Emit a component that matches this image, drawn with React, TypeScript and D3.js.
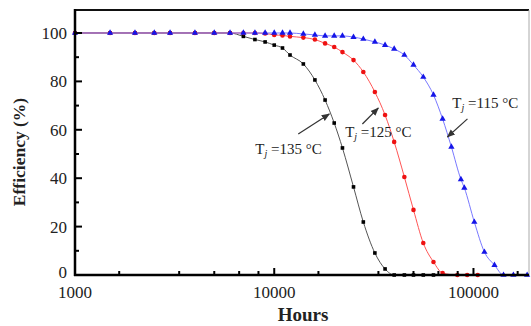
import React from 'react';
import * as d3 from 'd3';

// ---- Data (hours, efficiency %) ----
const hours135 = [1000, 1500, 2000, 2500, 3000, 4000, 5000, 6000, 7000, 8000, 9000, 10000, 11000, 12000, 14000, 16000, 18000, 20000, 22000, 25000, 28000, 32000, 36000, 40000, 45000, 50000, 56000, 63000];
const eff135 = [100, 100, 100, 100, 100, 100, 100, 100, 98.6, 97.3, 96.3, 95, 93.8, 90.9, 87.2, 80.6, 72.3, 62.8, 52.5, 36.4, 21.9, 9.1, 2.5, 0, 0, 0, 0, 0];

const hours125 = [1000, 1500, 2000, 2500, 3000, 4000, 5000, 6000, 7000, 8000, 9000, 10000, 11000, 12000, 14000, 16000, 18000, 20000, 22000, 25000, 28000, 32000, 36000, 40000, 45000, 50000, 56000, 63000, 70000, 83000, 93000, 105000];
const eff125 = [100, 100, 100, 100, 100, 100, 100, 100, 100, 100, 99.8, 99.2, 99, 98.6, 98.1, 97.3, 95.7, 94.2, 92.1, 88.8, 83.9, 75.6, 66.1, 55, 40.5, 26.9, 13.2, 5.4, 0.8, 0, 0, 0];

const hours115 = [1000, 1500, 2000, 2500, 3000, 4000, 5000, 6000, 7000, 8000, 9000, 10000, 11000, 12000, 14000, 16000, 18000, 20000, 22000, 25000, 28000, 32000, 36000, 40000, 45000, 50000, 56000, 63000, 70000, 77500, 86500, 90000, 101000, 113500, 127500, 141500, 158600, 186000];
const eff115 = [100, 100, 100, 100, 100, 100, 100, 100, 100, 100, 100, 100, 100, 100, 99.6, 99.2, 98.8, 98.8, 98.8, 98.3, 97.5, 96.3, 95, 93.4, 90.9, 86.8, 81.8, 74.4, 64.5, 52.9, 39.5, 36, 21.9, 9.5, 4.1, 0, 0, 0];

// ---- Axis ticks ----
const xMajorTicks = [1000, 10000, 100000];
const xTickLabels = ['1000', '10000', '100000'];
const xMinorSixths = [1, 2, 3, 4, 5];
const yMajorTicks = [0, 20, 40, 60, 80, 100];
const yTickLabels = ['0', '20', '40', '60', '80', '100'];
const yMinorTicks = [10, 30, 50, 70, 90];

// ---- Annotations (label in data coords, arrow from -> to) ----
const annoTemps = ['135', '125', '115'];
const annoLabelPos = [[8030, 50], [22700, 57], [78300, 69]];
const annoArrowFrom = [[13200, 58.3], [27700, 62.4], [93300, 64.5]];
const annoArrowTo = [[18900, 66.5], [33300, 69], [74000, 57]];

const serif = '"Liberation Serif", "Times New Roman", Times, serif';

export default function App() {
  const W = 531, H = 326;
  const left = 75, right = 529, top = 10, bottom = 275;
  const x = d3.scaleLog().domain([1000, 190000]).range([left, right]);
  const y = d3.scaleLinear().domain([0, 109.5]).range([bottom, top]);

  const line = d3.line<[number, number]>()
    .x(d => x(d[0]))
    .y(d => y(d[1]))
    .curve(d3.curveMonotoneX);

  const zip = (a: number[], b: number[]) => a.map((v, i) => [v, b[i]] as [number, number]);
  const d135 = zip(hours135, eff135);
  const d125 = zip(hours125, eff125);
  const d115 = zip(hours115, eff115);

  const xMinor: number[] = [];
  xMajorTicks.forEach(dec => xMinorSixths.forEach(k => {
    const v = dec * 10 * k / 6;
    if (v <= 190000) xMinor.push(v);
  }));

  const tri = d3.symbol().type(d3.symbolTriangle).size(17)() as string;

  return (
    <svg width={W} height={H} style={{ position: 'absolute', left: 0, top: 0, background: '#fff' }}>
      <defs>
        <marker id="arr" viewBox="0 0 10 10" refX="9" refY="5" markerWidth="7" markerHeight="7" orient="auto-start-reverse">
          <path d="M0,1 L10,5 L0,9 z" fill="#333" />
        </marker>
      </defs>
      <rect x={0} y={0} width={W} height={H} fill="#fff" />

      {/* frame */}
      <line x1={left} x2={right} y1={top} y2={top} stroke="#111" strokeWidth={2} />
      <line x1={right} x2={right} y1={top} y2={bottom} stroke="#aaa" strokeWidth={1} />

      {/* series 135 */}
      <path d={line(d135) as string} fill="none" stroke="#555" strokeWidth={1} />
      {d135.map((d, i) => (
        <rect key={'b' + i} x={x(d[0]) - 1.8} y={y(d[1]) - 1.8} width={3.6} height={3.6} fill="#000" />
      ))}
      {/* series 125 */}
      <path d={line(d125) as string} fill="none" stroke="#ff5555" strokeWidth={1} />
      {d125.map((d, i) => (
        <circle key={'r' + i} cx={x(d[0])} cy={y(d[1])} r={2.3} fill="#ee1111" />
      ))}
      {/* series 115 */}
      <path d={line(d115) as string} fill="none" stroke="#6060ff" strokeWidth={1} opacity={0.85} />
      {d115.map((d, i) => (
        <path key={'t' + i} d={tri} transform={`translate(${x(d[0])},${y(d[1])})`} fill="#1515e8" />
      ))}

      {/* axes */}
      <line x1={left} x2={left} y1={top - 1} y2={bottom + 1} stroke="#000" strokeWidth={2.5} />
      <line x1={left - 1} x2={right} y1={bottom} y2={bottom} stroke="#000" strokeWidth={2.5} />
      {yMajorTicks.map((t, i) => (
        <g key={'ym' + i}>
          <line x1={left} x2={left + 7} y1={y(t)} y2={y(t)} stroke="#000" strokeWidth={2} />
          <text x={67} y={y(t) - (t === 0 ? 3 : 0)} dy="0.35em" textAnchor="end" fontFamily={serif} fontSize={17} fill="#222">{yTickLabels[i]}</text>
        </g>
      ))}
      {yMinorTicks.map((t, i) => (
        <line key={'yn' + i} x1={left} x2={left + 4} y1={y(t)} y2={y(t)} stroke="#000" strokeWidth={2} />
      ))}
      {xMajorTicks.map((t, i) => (
        <g key={'xm' + i}>
          <line x1={x(t)} x2={x(t)} y1={bottom} y2={bottom - 7} stroke="#000" strokeWidth={2} />
          <text x={x(t)} y={298} textAnchor="middle" fontFamily={serif} fontSize={17} fill="#222">{xTickLabels[i]}</text>
        </g>
      ))}
      {xMinor.map((t, i) => (
        <line key={'xn' + i} x1={x(t)} x2={x(t)} y1={bottom} y2={bottom - 4} stroke="#000" strokeWidth={2} />
      ))}

      {/* axis titles */}
      <text x={303} y={321} textAnchor="middle" fontFamily={serif} fontWeight="bold" fontSize={19} fill="#222">Hours</text>
      <text transform="translate(25,152) rotate(-90)" textAnchor="middle" fontFamily={serif} fontWeight="bold" fontSize={17.5} fill="#222">Efficiency (%)</text>

      {/* annotations */}
      {annoTemps.map((t, i) => (
        <g key={'a' + i}>
          <line x1={x(annoArrowFrom[i][0])} y1={y(annoArrowFrom[i][1])} x2={x(annoArrowTo[i][0])} y2={y(annoArrowTo[i][1])}
            stroke="#333" strokeWidth={1.2} markerEnd="url(#arr)" />
          <text x={x(annoLabelPos[i][0])} y={y(annoLabelPos[i][1])} fontFamily={serif} fontSize={15} fill="#222">
            T<tspan fontSize={10} fontStyle="italic" dy={3}>j</tspan><tspan dy={-3}> =</tspan>{t} °C
          </text>
        </g>
      ))}
    </svg>
  );
}
